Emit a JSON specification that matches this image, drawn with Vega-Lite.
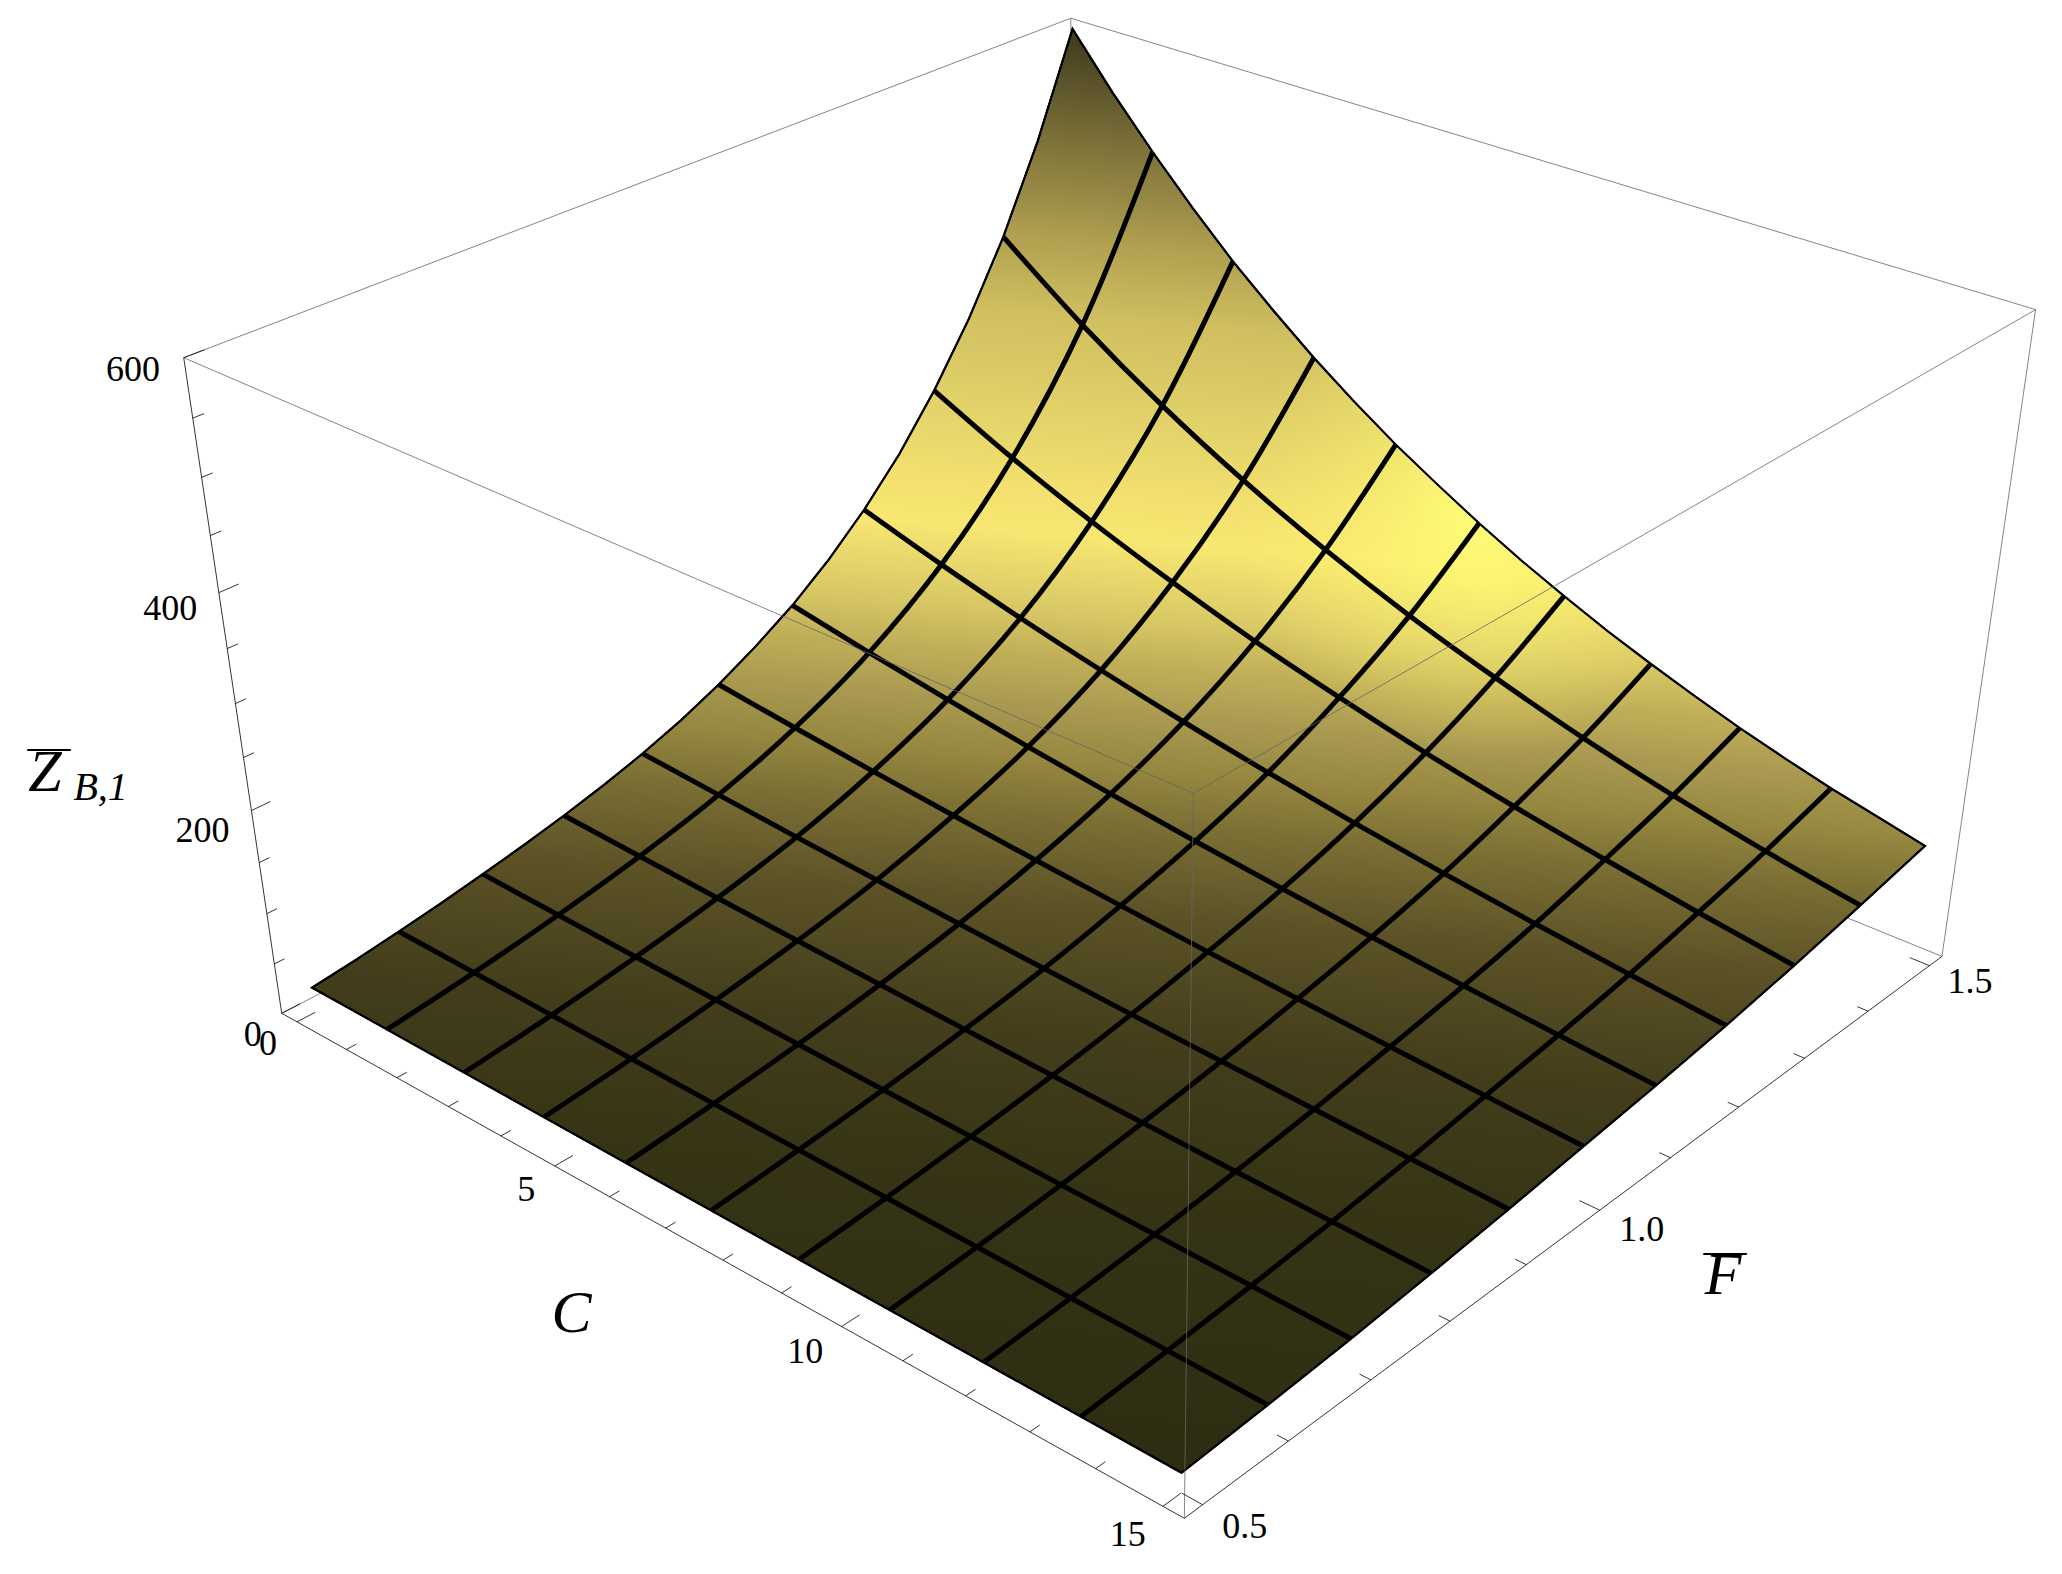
{"$schema":"https://vega.github.io/schema/vega-lite/v6.json","autosize":{"type":"fit","contains":"padding"},"width":2062,"height":1574,"padding":0,"background":"white","config":{"view":{"stroke":null}},
"datasets":{
"grid":[
{"c":0,"f":0.5,"z":25},{"c":1.5,"f":0.5,"z":24.3},{"c":3,"f":0.5,"z":23.7},{"c":4.5,"f":0.5,"z":23},{"c":6,"f":0.5,"z":22.4},{"c":7.5,"f":0.5,"z":21.8},{"c":9,"f":0.5,"z":21.2},{"c":10.5,"f":0.5,"z":20.6},{"c":12,"f":0.5,"z":20.1},{"c":13.5,"f":0.5,"z":19.5},{"c":15,"f":0.5,"z":19},
{"c":0,"f":0.6,"z":36},{"c":1.5,"f":0.6,"z":34.5},{"c":3,"f":0.6,"z":33},{"c":4.5,"f":0.6,"z":31.6},{"c":6,"f":0.6,"z":30.3},{"c":7.5,"f":0.6,"z":29.1},{"c":9,"f":0.6,"z":27.8},{"c":10.5,"f":0.6,"z":26.7},{"c":12,"f":0.6,"z":25.6},{"c":13.5,"f":0.6,"z":24.5},{"c":15,"f":0.6,"z":23.5},
{"c":0,"f":0.7,"z":50},{"c":1.5,"f":0.7,"z":47.3},{"c":3,"f":0.7,"z":44.8},{"c":4.5,"f":0.7,"z":42.5},{"c":6,"f":0.7,"z":40.2},{"c":7.5,"f":0.7,"z":38.1},{"c":9,"f":0.7,"z":36.1},{"c":10.5,"f":0.7,"z":34.1},{"c":12,"f":0.7,"z":32.3},{"c":13.5,"f":0.7,"z":30.6},{"c":15,"f":0.7,"z":29},
{"c":0,"f":0.8,"z":67},{"c":1.5,"f":0.8,"z":63},{"c":3,"f":0.8,"z":59.2},{"c":4.5,"f":0.8,"z":55.6},{"c":6,"f":0.8,"z":52.3},{"c":7.5,"f":0.8,"z":49.2},{"c":9,"f":0.8,"z":46.2},{"c":10.5,"f":0.8,"z":43.5},{"c":12,"f":0.8,"z":40.9},{"c":13.5,"f":0.8,"z":38.4},{"c":15,"f":0.8,"z":36},
{"c":0,"f":0.9,"z":89},{"c":1.5,"f":0.9,"z":83},{"c":3,"f":0.9,"z":77.3},{"c":4.5,"f":0.9,"z":72},{"c":6,"f":0.9,"z":67.2},{"c":7.5,"f":0.9,"z":62.6},{"c":9,"f":0.9,"z":58.3},{"c":10.5,"f":0.9,"z":54.4},{"c":12,"f":0.9,"z":50.7},{"c":13.5,"f":0.9,"z":47.2},{"c":15,"f":0.9,"z":44},
{"c":0,"f":1.0,"z":120},{"c":1.5,"f":1.0,"z":110.6},{"c":3,"f":1.0,"z":102},{"c":4.5,"f":1.0,"z":94.1},{"c":6,"f":1.0,"z":86.7},{"c":7.5,"f":1.0,"z":80},{"c":9,"f":1.0,"z":73.7},{"c":10.5,"f":1.0,"z":68},{"c":12,"f":1.0,"z":62.7},{"c":13.5,"f":1.0,"z":57.8},{"c":15,"f":1.0,"z":53},
{"c":0,"f":1.1,"z":163},{"c":1.5,"f":1.1,"z":148},{"c":3,"f":1.1,"z":134.4},{"c":4.5,"f":1.1,"z":122},{"c":6,"f":1.1,"z":110.8},{"c":7.5,"f":1.1,"z":100.6},{"c":9,"f":1.1,"z":91.4},{"c":10.5,"f":1.1,"z":83},{"c":12,"f":1.1,"z":75.3},{"c":13.5,"f":1.1,"z":68.4},{"c":15,"f":1.1,"z":62},
{"c":0,"f":1.2,"z":224},{"c":1.5,"f":1.2,"z":200},{"c":3,"f":1.2,"z":178.6},{"c":4.5,"f":1.2,"z":159.5},{"c":6,"f":1.2,"z":142.4},{"c":7.5,"f":1.2,"z":127.2},{"c":9,"f":1.2,"z":113.6},{"c":10.5,"f":1.2,"z":101.4},{"c":12,"f":1.2,"z":90.6},{"c":13.5,"f":1.2,"z":80.9},{"c":15,"f":1.2,"z":72},
{"c":0,"f":1.3,"z":310},{"c":1.5,"f":1.3,"z":272},{"c":3,"f":1.3,"z":239},{"c":4.5,"f":1.3,"z":210},{"c":6,"f":1.3,"z":184},{"c":7.5,"f":1.3,"z":162},{"c":9,"f":1.3,"z":142},{"c":10.5,"f":1.3,"z":125},{"c":12,"f":1.3,"z":110},{"c":13.5,"f":1.3,"z":96.3},{"c":15,"f":1.3,"z":84},
{"c":0,"f":1.4,"z":430},{"c":1.5,"f":1.4,"z":371},{"c":3,"f":1.4,"z":320},{"c":4.5,"f":1.4,"z":276},{"c":6,"f":1.4,"z":238},{"c":7.5,"f":1.4,"z":205},{"c":9,"f":1.4,"z":177},{"c":10.5,"f":1.4,"z":152},{"c":12,"f":1.4,"z":131},{"c":13.5,"f":1.4,"z":113},{"c":15,"f":1.4,"z":98},
{"c":0,"f":1.5,"z":600},{"c":1.5,"f":1.5,"z":508},{"c":3,"f":1.5,"z":429},{"c":4.5,"f":1.5,"z":363},{"c":6,"f":1.5,"z":307},{"c":7.5,"f":1.5,"z":260},{"c":9,"f":1.5,"z":220},{"c":10.5,"f":1.5,"z":186},{"c":12,"f":1.5,"z":157},{"c":13.5,"f":1.5,"z":133},{"c":15,"f":1.5,"z":113}
],
"edge":[
{"s":0,"c":0,"f":0.5,"z":25},{"s":1,"c":0,"f":0.55,"z":30},{"s":2,"c":0,"f":0.6,"z":36},{"s":3,"c":0,"f":0.65,"z":42.4},{"s":4,"c":0,"f":0.7,"z":50},{"s":5,"c":0,"f":0.75,"z":57.9},{"s":6,"c":0,"f":0.8,"z":67},{"s":7,"c":0,"f":0.85,"z":77.2},{"s":8,"c":0,"f":0.9,"z":89},{"s":9,"c":0,"f":0.95,"z":103},{"s":10,"c":0,"f":1.0,"z":120},{"s":11,"c":0,"f":1.05,"z":140},{"s":12,"c":0,"f":1.1,"z":163},{"s":13,"c":0,"f":1.15,"z":191},{"s":14,"c":0,"f":1.2,"z":224},{"s":15,"c":0,"f":1.25,"z":263},{"s":16,"c":0,"f":1.3,"z":310},{"s":17,"c":0,"f":1.35,"z":365},{"s":18,"c":0,"f":1.4,"z":430},{"s":19,"c":0,"f":1.45,"z":508},{"s":20,"c":0,"f":1.5,"z":600},
{"s":21,"c":0.75,"f":1.5,"z":552},{"s":22,"c":1.5,"f":1.5,"z":508},{"s":23,"c":2.25,"f":1.5,"z":467},{"s":24,"c":3,"f":1.5,"z":429},{"s":25,"c":3.75,"f":1.5,"z":395},{"s":26,"c":4.5,"f":1.5,"z":363},{"s":27,"c":5.25,"f":1.5,"z":334},{"s":28,"c":6,"f":1.5,"z":307},{"s":29,"c":6.75,"f":1.5,"z":283},{"s":30,"c":7.5,"f":1.5,"z":260},{"s":31,"c":8.25,"f":1.5,"z":239},{"s":32,"c":9,"f":1.5,"z":220},{"s":33,"c":9.75,"f":1.5,"z":202},{"s":34,"c":10.5,"f":1.5,"z":186},{"s":35,"c":11.25,"f":1.5,"z":171},{"s":36,"c":12,"f":1.5,"z":157},{"s":37,"c":12.75,"f":1.5,"z":144.5},{"s":38,"c":13.5,"f":1.5,"z":133},{"s":39,"c":14.25,"f":1.5,"z":123},{"s":40,"c":15,"f":1.5,"z":113},
{"s":41,"c":15,"f":1.4,"z":98},{"s":42,"c":15,"f":1.3,"z":84},{"s":43,"c":15,"f":1.2,"z":72},{"s":44,"c":15,"f":1.1,"z":62},{"s":45,"c":15,"f":1.0,"z":53},{"s":46,"c":15,"f":0.9,"z":44},{"s":47,"c":15,"f":0.8,"z":36},{"s":48,"c":15,"f":0.7,"z":29},{"s":49,"c":15,"f":0.6,"z":23.5},{"s":50,"c":15,"f":0.5,"z":19},
{"s":51,"c":12,"f":0.5,"z":20.1},{"s":52,"c":9,"f":0.5,"z":21.2},{"s":53,"c":6,"f":0.5,"z":22.4},{"s":54,"c":3,"f":0.5,"z":23.7}
],
"frame":[
{"e":"HE","kind":"box","place":"back","c":-0.3125,"f":1.5208,"z":600},{"e":"HE","kind":"box","place":"back","c":-0.3125,"f":0.4792,"z":600},
{"e":"HG","kind":"box","place":"back","c":-0.3125,"f":1.5208,"z":600},{"e":"HG","kind":"box","place":"back","c":15.3125,"f":1.5208,"z":600},
{"e":"HD","kind":"box","place":"back","c":-0.3125,"f":1.5208,"z":600},{"e":"HD","kind":"box","place":"back","c":-0.3125,"f":1.5208,"z":0},
{"e":"AD","kind":"box","place":"back","c":-0.3125,"f":0.4792,"z":0},{"e":"AD","kind":"box","place":"back","c":-0.3125,"f":1.5208,"z":0},
{"e":"CD","kind":"box","place":"back","c":15.3125,"f":1.5208,"z":0},{"e":"CD","kind":"box","place":"back","c":-0.3125,"f":1.5208,"z":0},
{"e":"GC","kind":"box","place":"back","c":15.3125,"f":1.5208,"z":600},{"e":"GC","kind":"box","place":"back","c":15.3125,"f":1.5208,"z":0},
{"e":"AB","kind":"axis","place":"back","c":-0.3125,"f":0.4792,"z":0},{"e":"AB","kind":"axis","place":"back","c":15.3125,"f":0.4792,"z":0},
{"e":"BC","kind":"axis","place":"back","c":15.3125,"f":0.4792,"z":0},{"e":"BC","kind":"axis","place":"back","c":15.3125,"f":1.5208,"z":0},
{"e":"AE","kind":"axis","place":"back","c":-0.3125,"f":0.4792,"z":0},{"e":"AE","kind":"axis","place":"back","c":-0.3125,"f":0.4792,"z":600},
{"e":"EF","kind":"box","place":"front","c":-0.3125,"f":0.4792,"z":600},{"e":"EF","kind":"box","place":"front","c":15.3125,"f":0.4792,"z":600},
{"e":"GF","kind":"box","place":"front","c":15.3125,"f":1.5208,"z":600},{"e":"GF","kind":"box","place":"front","c":15.3125,"f":0.4792,"z":600},
{"e":"FB","kind":"box","place":"front","c":15.3125,"f":0.4792,"z":600},{"e":"FB","kind":"box","place":"front","c":15.3125,"f":0.4792,"z":0}
],
"ticks":[
{"a":"C","t":0,"m":1},{"a":"C","t":1,"m":0},{"a":"C","t":2,"m":0},{"a":"C","t":3,"m":0},{"a":"C","t":4,"m":0},{"a":"C","t":5,"m":1},{"a":"C","t":6,"m":0},{"a":"C","t":7,"m":0},{"a":"C","t":8,"m":0},{"a":"C","t":9,"m":0},{"a":"C","t":10,"m":1},{"a":"C","t":11,"m":0},{"a":"C","t":12,"m":0},{"a":"C","t":13,"m":0},{"a":"C","t":14,"m":0},{"a":"C","t":15,"m":1},
{"a":"F","t":0.5,"m":1},{"a":"F","t":0.6,"m":0},{"a":"F","t":0.7,"m":0},{"a":"F","t":0.8,"m":0},{"a":"F","t":0.9,"m":0},{"a":"F","t":1.0,"m":1},{"a":"F","t":1.1,"m":0},{"a":"F","t":1.2,"m":0},{"a":"F","t":1.3,"m":0},{"a":"F","t":1.4,"m":0},{"a":"F","t":1.5,"m":1},
{"a":"Z","t":0,"m":1},{"a":"Z","t":50,"m":0},{"a":"Z","t":100,"m":0},{"a":"Z","t":150,"m":0},{"a":"Z","t":200,"m":1},{"a":"Z","t":250,"m":0},{"a":"Z","t":300,"m":0},{"a":"Z","t":350,"m":0},{"a":"Z","t":400,"m":1},{"a":"Z","t":450,"m":0},{"a":"Z","t":500,"m":0},{"a":"Z","t":550,"m":0},{"a":"Z","t":600,"m":1}
],
"labels":[
{"t":"600","c":-0.473,"f":0.4382,"z":600},{"t":"400","c":-0.41,"f":0.435,"z":400},{"t":"200","c":-0.36,"f":0.43,"z":200},{"t":"0","c":-0.18,"f":0.44,"z":0},
{"t":"0","c":0.127,"f":0.4403,"z":0},{"t":"5","c":5.125,"f":0.4403,"z":0},{"t":"10","c":10.03,"f":0.437,"z":0},{"t":"15","c":15.03,"f":0.4375,"z":0},
{"t":"0.5","c":15.916,"f":0.5006,"z":0},{"t":"1.0","c":15.94,"f":1.0,"z":0},{"t":"1.5","c":15.94,"f":1.5,"z":0}
],
"titles":[{"t":"C","c":7.436,"f":0.35,"z":0},{"t":"F","c":17.217,"f":0.9914,"z":0},{"t":"Z","c":-2.105,"f":0.3633,"z":240}],
"bars":[{"t":"—","c":16.947,"f":1.0205,"z":0},{"t":"—","c":-2.618,"f":0.3927,"z":240}],
"subs":[{"t":"B,1","c":-1.272,"f":0.3786,"z":240}]
},
"layer":[
{"data":{"name":"frame"},"transform":[{"filter":"datum.place=='back'"},{"calculate":"0.02+0.96*datum.c/15","as":"u"},{"calculate":"0.02+0.96*(datum.f-0.5)","as":"v"},{"calculate":"datum.z/600","as":"w"},{"calculate":"1-0.15855*datum.u+0.18*datum.v-0.10457*datum.w","as":"h"},{"calculate":"1000*(0.2817+0.71483*datum.u+0.9871*datum.v-0.11721*datum.w)/datum.h","as":"sx"},{"calculate":"1000*(1.0133+0.26427*datum.u-0.3007*datum.v-0.693*datum.w)/datum.h","as":"sy"}],
"mark":{"type":"line","strokeWidth":0.8},
"encoding":{"x":{"field":"sx","type":"quantitative","scale":{"domain":[0,2062],"nice":false,"zero":false},"axis":null},"y":{"field":"sy","type":"quantitative","scale":{"domain":[1574,0],"nice":false,"zero":false},"axis":null},"detail":{"field":"e"},"color":{"field":"kind","type":"nominal","scale":{"domain":["axis","box"],"range":["#000000","#666666"]},"legend":null}}},
{"data":{"name":"edge"},"transform":[{"calculate":"0.02+0.96*datum.c/15","as":"u"},{"calculate":"0.02+0.96*(datum.f-0.5)","as":"v"},{"calculate":"datum.z/600","as":"w"},{"calculate":"1-0.15855*datum.u+0.18*datum.v-0.10457*datum.w","as":"h"},{"calculate":"1000*(0.2817+0.71483*datum.u+0.9871*datum.v-0.11721*datum.w)/datum.h","as":"sx"},{"calculate":"1000*(1.0133+0.26427*datum.u-0.3007*datum.v-0.693*datum.w)/datum.h","as":"sy"}],
"mark":{"type":"line","interpolate":"linear-closed","stroke":"#000000","strokeWidth":2,"fill":{"gradient":"linear","x1":0.55,"y1":0,"x2":0.45,"y2":1,"stops":[{"offset":0,"color":"#37321a"},{"offset":0.083,"color":"#7a6f38"},{"offset":0.153,"color":"#b0a050"},{"offset":0.204,"color":"#cfbf60"},{"offset":0.273,"color":"#e2d269"},{"offset":0.326,"color":"#f3e06f"},{"offset":0.355,"color":"#f8e772"},{"offset":0.408,"color":"#d8c865"},{"offset":0.441,"color":"#bfae58"},{"offset":0.477,"color":"#a89850"},{"offset":0.512,"color":"#95873f"},{"offset":0.547,"color":"#7c7035"},{"offset":0.61,"color":"#5c5226"},{"offset":0.7,"color":"#433d1b"},{"offset":0.8,"color":"#363415"},{"offset":1,"color":"#2d2c12"}]}},
"encoding":{"x":{"field":"sx","type":"quantitative"},"y":{"field":"sy","type":"quantitative"},"order":{"field":"s","type":"quantitative"}}},
{"data":{"name":"edge"},"transform":[{"calculate":"0.02+0.96*datum.c/15","as":"u"},{"calculate":"0.02+0.96*(datum.f-0.5)","as":"v"},{"calculate":"datum.z/600","as":"w"},{"calculate":"1-0.15855*datum.u+0.18*datum.v-0.10457*datum.w","as":"h"},{"calculate":"1000*(0.2817+0.71483*datum.u+0.9871*datum.v-0.11721*datum.w)/datum.h","as":"sx"},{"calculate":"1000*(1.0133+0.26427*datum.u-0.3007*datum.v-0.693*datum.w)/datum.h","as":"sy"}],
"mark":{"type":"line","interpolate":"linear-closed","stroke":"#000000","strokeWidth":2,"fill":{"gradient":"radial","x1":0.724,"y1":0.355,"r1":0,"x2":0.724,"y2":0.355,"r2":0.15,"stops":[{"offset":0,"color":"rgba(255,255,120,0.95)"},{"offset":0.45,"color":"rgba(255,250,115,0.45)"},{"offset":1,"color":"rgba(255,240,110,0)"}]}},
"encoding":{"x":{"field":"sx","type":"quantitative"},"y":{"field":"sy","type":"quantitative"},"order":{"field":"s","type":"quantitative"}}},
{"data":{"name":"grid"},"transform":[{"filter":"datum.c>0 && datum.c<15"},{"calculate":"0.02+0.96*datum.c/15","as":"u"},{"calculate":"0.02+0.96*(datum.f-0.5)","as":"v"},{"calculate":"datum.z/600","as":"w"},{"calculate":"1-0.15855*datum.u+0.18*datum.v-0.10457*datum.w","as":"h"},{"calculate":"1000*(0.2817+0.71483*datum.u+0.9871*datum.v-0.11721*datum.w)/datum.h","as":"sx"},{"calculate":"1000*(1.0133+0.26427*datum.u-0.3007*datum.v-0.693*datum.w)/datum.h","as":"sy"}],
"mark":{"type":"line","interpolate":"catmull-rom","stroke":"#000000","strokeWidth":5},
"encoding":{"x":{"field":"sx","type":"quantitative"},"y":{"field":"sy","type":"quantitative"},"detail":{"field":"c"},"order":{"field":"f","type":"quantitative"}}},
{"data":{"name":"grid"},"transform":[{"filter":"datum.f>0.55 && datum.f<1.45"},{"calculate":"0.02+0.96*datum.c/15","as":"u"},{"calculate":"0.02+0.96*(datum.f-0.5)","as":"v"},{"calculate":"datum.z/600","as":"w"},{"calculate":"1-0.15855*datum.u+0.18*datum.v-0.10457*datum.w","as":"h"},{"calculate":"1000*(0.2817+0.71483*datum.u+0.9871*datum.v-0.11721*datum.w)/datum.h","as":"sx"},{"calculate":"1000*(1.0133+0.26427*datum.u-0.3007*datum.v-0.693*datum.w)/datum.h","as":"sy"}],
"mark":{"type":"line","interpolate":"catmull-rom","stroke":"#000000","strokeWidth":5},
"encoding":{"x":{"field":"sx","type":"quantitative"},"y":{"field":"sy","type":"quantitative"},"detail":{"field":"f"},"order":{"field":"c","type":"quantitative"}}},
{"data":{"name":"frame"},"transform":[{"filter":"datum.place=='front'"},{"calculate":"0.02+0.96*datum.c/15","as":"u"},{"calculate":"0.02+0.96*(datum.f-0.5)","as":"v"},{"calculate":"datum.z/600","as":"w"},{"calculate":"1-0.15855*datum.u+0.18*datum.v-0.10457*datum.w","as":"h"},{"calculate":"1000*(0.2817+0.71483*datum.u+0.9871*datum.v-0.11721*datum.w)/datum.h","as":"sx"},{"calculate":"1000*(1.0133+0.26427*datum.u-0.3007*datum.v-0.693*datum.w)/datum.h","as":"sy"}],
"mark":{"type":"line","strokeWidth":0.8,"stroke":"#666666"},
"encoding":{"x":{"field":"sx","type":"quantitative"},"y":{"field":"sy","type":"quantitative"},"detail":{"field":"e"}}},
{"data":{"name":"ticks"},"transform":[{"calculate":"datum.m==1?0.0196:0.0107","as":"len"},{"calculate":"datum.a=='C'?0.02+0.96*datum.t/15:datum.a=='F'?1:0","as":"u"},{"calculate":"datum.a=='F'?0.02+0.96*(datum.t-0.5):0","as":"v"},{"calculate":"datum.a=='Z'?datum.t/600:0","as":"w"},{"calculate":"datum.a=='F'?datum.u-datum.len:datum.u","as":"u2"},{"calculate":"datum.a=='F'?datum.v:datum.v+datum.len","as":"v2"},{"calculate":"1-0.15855*datum.u+0.18*datum.v-0.10457*datum.w","as":"h"},{"calculate":"1000*(0.2817+0.71483*datum.u+0.9871*datum.v-0.11721*datum.w)/datum.h","as":"sx"},{"calculate":"1000*(1.0133+0.26427*datum.u-0.3007*datum.v-0.693*datum.w)/datum.h","as":"sy"},{"calculate":"1-0.15855*datum.u2+0.18*datum.v2-0.10457*datum.w","as":"h2"},{"calculate":"1000*(0.2817+0.71483*datum.u2+0.9871*datum.v2-0.11721*datum.w)/datum.h2","as":"ex"},{"calculate":"1000*(1.0133+0.26427*datum.u2-0.3007*datum.v2-0.693*datum.w)/datum.h2","as":"ey"}],
"mark":{"type":"rule","stroke":"#000000","strokeWidth":0.8},
"encoding":{"x":{"field":"sx","type":"quantitative"},"y":{"field":"sy","type":"quantitative"},"x2":{"field":"ex"},"y2":{"field":"ey"}}},
{"data":{"name":"labels"},"transform":[{"calculate":"0.02+0.96*datum.c/15","as":"u"},{"calculate":"0.02+0.96*(datum.f-0.5)","as":"v"},{"calculate":"datum.z/600","as":"w"},{"calculate":"1-0.15855*datum.u+0.18*datum.v-0.10457*datum.w","as":"h"},{"calculate":"1000*(0.2817+0.71483*datum.u+0.9871*datum.v-0.11721*datum.w)/datum.h","as":"sx"},{"calculate":"1000*(1.0133+0.26427*datum.u-0.3007*datum.v-0.693*datum.w)/datum.h","as":"sy"}],
"mark":{"type":"text","font":"Liberation Serif","fontSize":36,"align":"center","baseline":"middle","color":"#000000"},
"encoding":{"x":{"field":"sx","type":"quantitative"},"y":{"field":"sy","type":"quantitative"},"text":{"field":"t"}}},
{"data":{"name":"titles"},"transform":[{"calculate":"0.02+0.96*datum.c/15","as":"u"},{"calculate":"0.02+0.96*(datum.f-0.5)","as":"v"},{"calculate":"datum.z/600","as":"w"},{"calculate":"1-0.15855*datum.u+0.18*datum.v-0.10457*datum.w","as":"h"},{"calculate":"1000*(0.2817+0.71483*datum.u+0.9871*datum.v-0.11721*datum.w)/datum.h","as":"sx"},{"calculate":"1000*(1.0133+0.26427*datum.u-0.3007*datum.v-0.693*datum.w)/datum.h","as":"sy"}],
"mark":{"type":"text","font":"Liberation Serif","fontStyle":"italic","fontSize":60,"align":"center","baseline":"middle","color":"#000000"},
"encoding":{"x":{"field":"sx","type":"quantitative"},"y":{"field":"sy","type":"quantitative"},"text":{"field":"t"}}},
{"data":{"name":"bars"},"transform":[{"calculate":"0.02+0.96*datum.c/15","as":"u"},{"calculate":"0.02+0.96*(datum.f-0.5)","as":"v"},{"calculate":"datum.z/600","as":"w"},{"calculate":"1-0.15855*datum.u+0.18*datum.v-0.10457*datum.w","as":"h"},{"calculate":"1000*(0.2817+0.71483*datum.u+0.9871*datum.v-0.11721*datum.w)/datum.h","as":"sx"},{"calculate":"1000*(1.0133+0.26427*datum.u-0.3007*datum.v-0.693*datum.w)/datum.h","as":"sy"}],
"mark":{"type":"text","font":"Liberation Serif","fontSize":43,"align":"center","baseline":"middle","color":"#000000"},
"encoding":{"x":{"field":"sx","type":"quantitative"},"y":{"field":"sy","type":"quantitative"},"text":{"field":"t"}}},
{"data":{"name":"subs"},"transform":[{"calculate":"0.02+0.96*datum.c/15","as":"u"},{"calculate":"0.02+0.96*(datum.f-0.5)","as":"v"},{"calculate":"datum.z/600","as":"w"},{"calculate":"1-0.15855*datum.u+0.18*datum.v-0.10457*datum.w","as":"h"},{"calculate":"1000*(0.2817+0.71483*datum.u+0.9871*datum.v-0.11721*datum.w)/datum.h","as":"sx"},{"calculate":"1000*(1.0133+0.26427*datum.u-0.3007*datum.v-0.693*datum.w)/datum.h","as":"sy"}],
"mark":{"type":"text","font":"Liberation Serif","fontStyle":"italic","fontSize":40,"align":"center","baseline":"middle","color":"#000000"},
"encoding":{"x":{"field":"sx","type":"quantitative"},"y":{"field":"sy","type":"quantitative"},"text":{"field":"t"}}}
]}
